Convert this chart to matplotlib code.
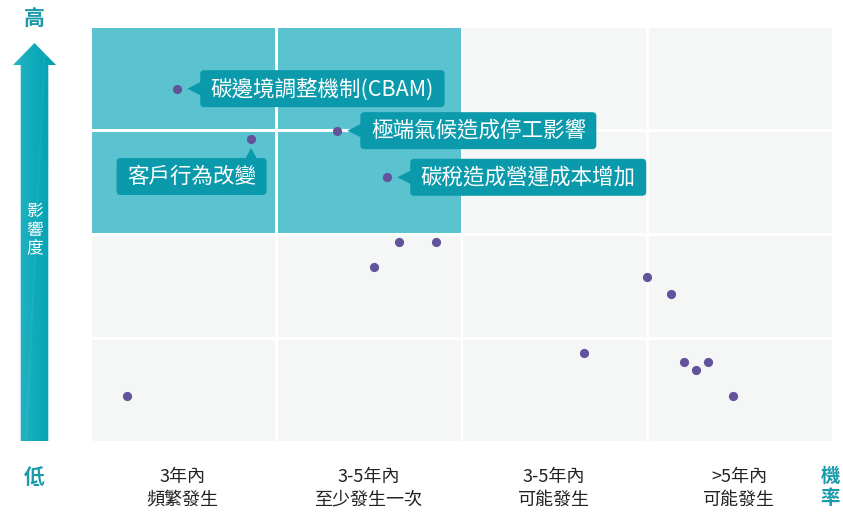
import numpy as np
import matplotlib
matplotlib.use('Agg')
import matplotlib.pyplot as plt
from matplotlib.patches import Rectangle, FancyBboxPatch, Polygon

# 字體設定
plt.rcParams['font.family'] = ['Noto Sans CJK TC', 'DejaVu Sans']

# 資料 (x: 機率, y: 影響度, 0~4 格)
risk_x = [0.465, 0.863, 1.328, 1.597, 1.660, 1.858, 1.526, 2.995, 3.127,
          2.659, 3.195, 3.325, 3.260, 3.463, 0.194]
risk_y = [3.399, 2.916, 2.996, 2.549, 1.925, 1.925, 1.685, 1.595, 1.429,
          0.860, 0.774, 0.774, 0.697, 0.451, 0.451]

# 標註: (點索引, 文字, 方向)
labels = [(0, '碳邊境調整機制(CBAM)', 'right'),
          (1, '客戶行為改變', 'below'),
          (2, '極端氣候造成停工影響', 'right'),
          (3, '碳稅造成營運成本增加', 'right')]

x_ticklabels = ['3年內\n頻繁發生', '3-5年內\n至少發生一次', '3-5年內\n可能發生', '>5年內\n可能發生']

W, H = 843, 516
TEAL_LIGHT = '#5bc3cf'
TEAL_BOX = '#0a9aab'
TEAL_TEXT = '#1a9aaa'
GRAY_CELL = '#f5f7f7'
DOT = '#62539b'

fig = plt.figure(figsize=(W / 100, H / 100), dpi=100)
ax = fig.add_axes([91 / W, 1 - 443 / H, (833 - 91) / W, (443 - 26) / H])
ax.set_xlim(0, 4)
ax.set_ylim(0, 4)
ax.axis('off')

# 格子
gx = 1.25 / 185.5
gy = 1.6 / 104.25
for i in range(4):
    for j in range(4):
        c = TEAL_LIGHT if (i < 2 and j >= 2) else GRAY_CELL
        ax.add_patch(Rectangle((i + gx, j + gy), 1 - 2 * gx, 1 - 2 * gy,
                               facecolor=c, edgecolor='none', zorder=0))

ax.scatter(risk_x, risk_y, s=44, color=DOT, zorder=3, linewidths=0)

# 覆蓋層 (像素座標)
ov = fig.add_axes([0, 0, 1, 1], zorder=5)
ov.set_xlim(0, W)
ov.set_ylim(H, 0)
ov.axis('off')
ov.patch.set_alpha(0)


def to_px(x, y):
    dx, dy = ax.transData.transform((x, y))
    return dx, H - dy


renderer = fig.canvas.get_renderer()
box_h = 37
pad = 10.5
for idx, txt, side in labels:
    px, py = to_px(risk_x[idx], risk_y[idx])
    t = ov.text(0, 0, txt, fontsize=15.5, color='white', va='center', ha='left', zorder=7)
    bb = t.get_window_extent(renderer)
    tw = bb.width
    bw = tw + 2 * pad
    if side == 'right':
        left = px + 23
        top = py - box_h / 2
        tri = [(px + 10, py), (left + 1, py - 7), (left + 1, py + 7)]
    else:
        left = px + 15.5 - bw
        top = py + 19
        tri = [(px, py + 9), (px - 6, top + 1), (px + 6, top + 1)]
    ov.add_patch(FancyBboxPatch((left, top), bw, box_h,
                                boxstyle='round,pad=0,rounding_size=4',
                                facecolor=TEAL_BOX, edgecolor='none', zorder=6))
    ov.add_patch(Polygon(tri, closed=True, facecolor=TEAL_BOX, edgecolor='none', zorder=6))
    t.set_position((left + pad, top + box_h / 2 + 0.5))

# 左側箭頭 (漸層)
arrow = [(20.7, 441), (20.7, 65), (13, 65), (34.5, 43), (56, 65), (48.3, 65), (48.3, 441)]
poly = Polygon(arrow, closed=True, facecolor='none', edgecolor='none', zorder=4)
ov.add_patch(poly)
gx_, gy_ = np.meshgrid(np.linspace(0, 1, 60), np.linspace(0, 1, 400))
grad = gx_ + 0.08 * (1 - gy_)
# 斜向亮帶
band = np.clip(1 - np.abs(gx_ - (0.75 - 0.45 * gy_)) / 0.03, 0, 1)
grad = np.clip(grad - 0.35 * band, 0, 1.1)
img = ov.imshow(grad, extent=(13, 56, 441, 43), cmap=matplotlib.colors.LinearSegmentedColormap.from_list(
    'tl', ['#2bb6c4', '#10aabb', '#02a0b1']), aspect='auto', zorder=4, interpolation='bilinear')
img.set_clip_path(poly)
ov.set_xlim(0, W)
ov.set_ylim(H, 0)

ov.text(34.5, 230, '影\n響\n度', color='white', fontsize=12, ha='center', va='center',
        linespacing=1.15, zorder=6)
ov.text(34, 18, '高', color=TEAL_TEXT, fontsize=15, ha='center', va='center', fontweight='bold')
ov.text(34, 478, '低', color=TEAL_TEXT, fontsize=15, ha='center', va='center', fontweight='bold')
ov.text(830, 487, '機\n率', color=TEAL_TEXT, fontsize=14, ha='center', va='center',
        linespacing=1.2, fontweight='bold')

# x 軸文字
for k, lab in enumerate(x_ticklabels):
    cx, _ = to_px(k + 0.5, 0)
    ov.text(cx - 1, 488, lab, fontsize=13, color='#222222', ha='center', va='center',
            linespacing=1.35)

fig.savefig('out.png', dpi=100)
